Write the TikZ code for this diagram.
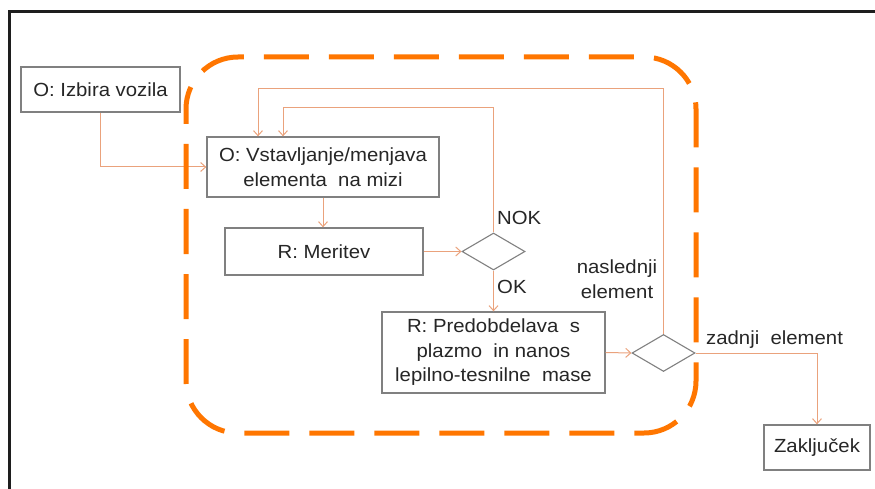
\documentclass[tikz,border=0pt]{standalone}
\usepackage{fontspec}
\setmainfont{Liberation Sans}[FakeStretch=1.07]
\usetikzlibrary{shapes.geometric,arrows.meta}
\definecolor{conn}{RGB}{234,162,124}
\definecolor{boxline}{RGB}{128,128,128}
\definecolor{txt}{RGB}{38,38,38}
\definecolor{dashor}{RGB}{255,118,0}
\begin{document}
\begin{tikzpicture}[x=1pt,y=-1pt,
  every node/.style={font=\fontsize{19}{24.5}\selectfont,text=txt},
  procbox/.style={draw=boxline,line width=1.3pt,fill=white,inner sep=0pt,align=center},
  decide/.style={draw=boxline,line width=1.1pt,fill=white,diamond,inner sep=0pt,minimum width=63,minimum height=37},
  link/.style={draw=conn,line width=1pt,-{Straight Barb[length=5pt,width=9pt]}},
  label/.style={inner sep=0pt}]
\useasboundingbox (0,0) rectangle (875,489);
% frame
\draw[line width=3pt,color={rgb,255:red,30;green,30;blue,30}] (9,489) -- (9,12) -- (876,12);
% nodes
\node[procbox,minimum width=159,minimum height=45] (izbira) at (100.5,89.5) {O: Izbira vozila};
\node[procbox,minimum width=232,minimum height=60] (vst) at (323,167) {O: Vstavljanje/menjava\\elementa \ na mizi};
\node[procbox,minimum width=198,minimum height=47] (mer) at (324,251.5) {R: Meritev};
\node[decide] (d1) at (493.5,251.5) {};
\node[procbox,minimum width=223,minimum height=81] (pre) at (493.5,352.5) {R: Predobdelava \ s\\plazmo \ in nanos\\lepilno-tesnilne \ mase};
\node[decide] (d2) at (663.5,353) {};
\node[procbox,minimum width=106,minimum height=45] (zak) at (817,447.5) {Zaključek};
% helper coordinates
\coordinate (k1) at (283,108);
\coordinate (k2) at (258,89);
% connectors
\draw[link] (izbira.south) |- (vst.west);
\draw[link] (vst.south) -- (vst.south |- mer.north);
\draw[link] (mer.east) -- (d1.west);
\draw[link] (d1.north) |- (k1) -- (k1 |- vst.north);
\draw[link] (d1.south) -- (pre.north);
\draw[link] (pre.east) -- (d2.west);
\draw[link] (d2.north) |- (k2) -- (k2 |- vst.north);
\draw[link] (d2.east) -| (zak.north);
% labels
\node[label,anchor=west] (nok) at (497,218) {NOK};
\node[label,anchor=west] (ok) at (497,287) {OK};
\node[label,align=center] (nasl) at (617,279) {naslednji\\element};
\node[label,anchor=west] (zad) at (706,340) {zadnji \ element};
% dashed group
\draw[dashor,line width=5pt,dash pattern=on 45pt off 20pt,dash phase=30pt,rounded corners=52pt] (186,57) rectangle (696,433);
\end{tikzpicture}
\end{document}
